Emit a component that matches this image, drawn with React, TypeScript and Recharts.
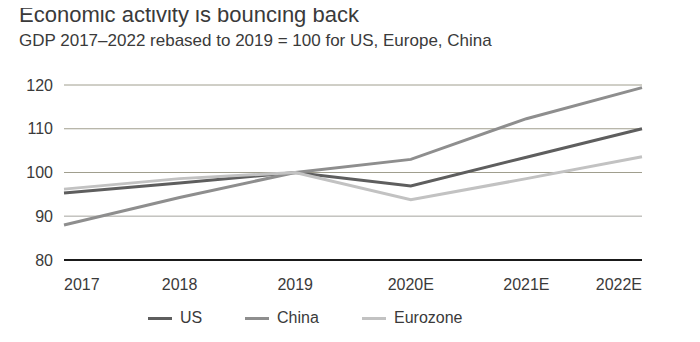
import { CartesianGrid, Line, LineChart, ReferenceLine, XAxis, YAxis } from 'recharts';

const years = ['2017', '2018', '2019', '2020E', '2021E', '2022E'];
const us = [95.3, 97.6, 100, 96.9, 103.5, 110];
const china = [88, 94.3, 100, 103, 112.3, 119.4];
const eurozone = [96.2, 98.6, 100, 93.8, 98.6, 103.6];
const yTicks = [80, 90, 100, 110, 120];

const series = [
  { key: 'us', name: 'US', color: '#5e5e5e' },
  { key: 'china', name: 'China', color: '#8e8e8e' },
  { key: 'eurozone', name: 'Eurozone', color: '#c2c2c2' },
];

const data = years.map((year, i) => ({
  year,
  us: us[i],
  china: china[i],
  eurozone: eurozone[i],
}));

const FONT = '"Liberation Sans", Arial, sans-serif';
const TEXT = '#3a3a3a';

function YearTick({ x, y, index, payload }: any) {
  const anchor = index === 0 ? 'start' : index === years.length - 1 ? 'end' : 'middle';
  return (
    <text x={x} y={y + 22} textAnchor={anchor} fill={TEXT} fontSize={16} fontFamily={FONT}>
      {payload.value}
    </text>
  );
}

export default function App() {
  return (
    <div style={{ position: 'relative', width: 700, height: 342, margin: -8, background: '#fff', fontFamily: FONT }}>
      <div style={{ position: 'absolute', left: 19, top: 2, fontSize: 22, color: TEXT, whiteSpace: 'nowrap' }}>
        Economic activity is bouncing back
      </div>
      <div style={{ position: 'absolute', left: 19, top: 31, fontSize: 17, color: TEXT, whiteSpace: 'nowrap' }}>
        GDP 2017–2022 rebased to 2019 = 100 for US, Europe, China
      </div>
      <div style={{ position: 'absolute', left: 0, top: 0 }}>
        <LineChart width={700} height={342} data={data} margin={{ top: 85, right: 58, left: 0, bottom: 0 }}>
          <CartesianGrid horizontal vertical={false} stroke="#a09e8e" strokeWidth={1} />
          <ReferenceLine y={90} stroke="#c8c8c8" strokeWidth={1.2} />
          <XAxis
            dataKey="year"
            height={82}
            interval={0}
            tickLine={false}
            axisLine={{ stroke: '#1a1a1a', strokeWidth: 2 }}
            tick={<YearTick />}
          />
          <YAxis
            domain={[80, 120]}
            ticks={yTicks}
            width={64}
            axisLine={false}
            tickLine={false}
            tickSize={0}
            tickMargin={11}
            tick={{ fill: TEXT, fontSize: 16, fontFamily: FONT }}
          />
          {series.map((s) => (
            <Line
              key={s.key}
              dataKey={s.key}
              name={s.name}
              type="linear"
              stroke={s.color}
              strokeWidth={3}
              dot={false}
              isAnimationActive={false}
            />
          ))}
        </LineChart>
      </div>
      {series.map((s, i) => (
        <div
          key={s.key}
          style={{
            position: 'absolute',
            left: [148, 245, 362][i],
            top: 309,
            display: 'flex',
            alignItems: 'center',
            fontSize: 16,
            color: TEXT,
          }}
        >
          <span style={{ display: 'inline-block', width: 24, height: 3, background: s.color, marginRight: 8 }} />
          {s.name}
        </div>
      ))}
    </div>
  );
}
